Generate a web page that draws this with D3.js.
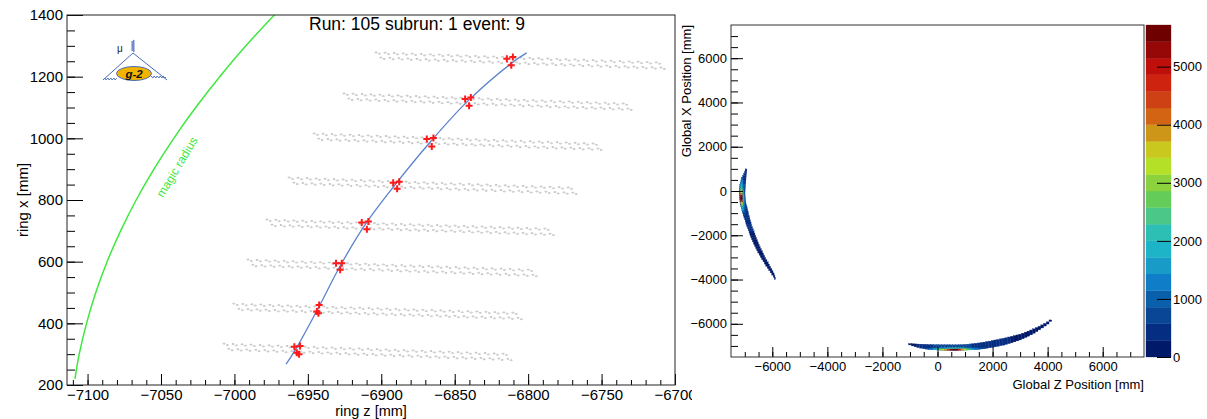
<!DOCTYPE html>
<html><head><meta charset="utf-8">
<script src="https://cdn.jsdelivr.net/npm/d3@7"></script>
<style>
body{margin:0;background:#fff;}
svg{display:block;font-family:"Liberation Sans",Arial,Helvetica,sans-serif;}
</style></head><body>
<svg id="c" width="1207" height="419"></svg>
<script>
// ================= DATA =================
const title = "Run: 105 subrun: 1 event: 9";
// left panel (ring coordinates, mm)
const leftZDomain = [-7114, -6700];
const leftXDomain = [200, 1400];
const leftZTicks = [-7100, -7050, -7000, -6950, -6900, -6850, -6800, -6750, -6700];
const leftXTicks = [200, 400, 600, 800, 1000, 1200, 1400];
const leftZTitle = "ring z [mm]";
const leftXTitle = "ring x [mm]";
// magic radius curve
const magicX = [220, 300, 400, 500, 600, 700, 800, 900, 1000, 1100, 1200, 1300, 1400, 1420];
const magicZ = [-7108.6, -7105.7, -7100.7, -7094.4, -7086.7, -7077.5, -7066.9, -7054.8, -7041.3, -7026.4, -7010.0, -6992.2, -6972.8, -6968.8];
const magicLabel = "magic radius";
// fitted track
const fitX = [268, 314, 444, 586, 720, 853, 989, 1119, 1245, 1277];
const fitZ = [-6964.8, -6958.5, -6943.5, -6928.0, -6911.0, -6890.0, -6866.5, -6841.5, -6811.0, -6801.0];
// straw hits (red)
const hitZ = [-6959.2, -6955.3, -6957.5, -6956.0, -6942.3, -6943.9, -6942.8, -6930.8, -6926.9, -6928.0,
              -6913.3, -6908.8, -6909.8, -6891.9, -6887.8, -6889.2, -6869.0, -6864.5, -6865.6,
              -6842.9, -6839.0, -6840.2, -6814.5, -6810.4, -6811.5];
const hitX = [324.4, 326.6, 304.9, 299.7, 459.7, 438.0, 432.8, 595.1, 595.1, 573.4,
              727.0, 730.2, 705.5, 855.8, 859.1, 836.4, 997.7, 1001.0, 973.7,
              1127.6, 1132.8, 1105.8, 1258.4, 1264.0, 1236.7];
// tracker stations: band centre at first / last straw
const stationZ0 = [-7004.3, -6997.5, -6988.0, -6975.0, -6960.0, -6943.0, -6922.6, -6900.8];
const stationX0 = [323.4, 453.2, 596.1, 726.0, 862.3, 1005.2, 1135.0, 1268.2];
const stationZ1 = [-6814.3, -6807.5, -6797.2, -6785.7, -6770.0, -6753.0, -6732.5, -6710.0];
const stationX1 = [290.9, 424.0, 563.6, 696.8, 829.9, 972.7, 1102.6, 1235.7];
const strawsPerLayer = 32;
const layerOffset = [10, 6, -6, -10];     // mm, across the station
const layerShift = [-4.5, -1.5, 1.5, 4.5]; // mm, along the station

// right panel (global coordinates, mm)
const rightDomain = [-7500, 7500];
const rightTicks = [-6000, -4000, -2000, 0, 2000, 4000, 6000];
const rightZTitle = "Global Z Position [mm]";
const rightXTitle = "Global X Position [mm]";
const paletteMax = 5717;
const paletteTicks = [0, 1000, 2000, 3000, 4000, 5000];
const paletteColors = ["#001969","#052d82","#0a4696","#0a5faa","#0f7dc8","#199bc8","#1eb4c8","#2dbeb4",
  "#4bc887","#64cd5a","#8cd23c","#b4e128","#c8c81e","#cd9619","#d26414","#cd4114","#cd230f","#be0f0a","#960808","#6e0000"];
// histogram: left arc, rows of 100 mm in X
const leftArcX = [950,850,750,650,550,450,350,250,150,50,-50,-150,-250,-350,-450,-550,-650,-750,-850,-950,
  -1050,-1150,-1250,-1350,-1450,-1550,-1650,-1750,-1850,-1950,-2050,-2150,-2250,-2350,-2450,-2550,-2650,-2750,-2850,-2950,
  -3050,-3150,-3250,-3350,-3450,-3550,-3650,-3750,-3850,-3950];
const leftArcL = [-6975,-7010,-7045,-7080,-7115,-7140,-7165,-7180,-7190,-7195,-7198,-7195,-7190,-7185,-7178,-7170,-7150,-7130,-7105,-7080,
  -7060,-7035,-7010,-6985,-6960,-6935,-6905,-6875,-6845,-6815,-6785,-6755,-6720,-6685,-6645,-6605,-6565,-6525,-6480,-6435,
  -6390,-6340,-6290,-6240,-6185,-6130,-6075,-6020,-5965,-5925];
const leftArcR = [-6925,-6930,-6940,-6950,-6955,-6960,-6965,-6970,-6975,-6985,-6990,-6990,-6985,-6975,-6965,-6955,-6935,-6915,-6895,-6875,
  -6860,-6835,-6815,-6795,-6770,-6750,-6720,-6690,-6660,-6630,-6600,-6570,-6540,-6510,-6475,-6440,-6400,-6360,-6320,-6280,
  -6240,-6195,-6150,-6105,-6060,-6015,-5975,-5935,-5905,-5885];
const leftArcN = [250,350,400,400,450,500,550,600,600,650,700,700,700,650,650,600,550,500,450,400,
  400,350,350,350,300,300,300,300,300,250,250,250,250,250,250,250,200,200,200,200,
  200,200,200,200,150,150,150,150,150,100];
const leftHotX = [550,450,350,250,150,50,-50,-150,-250,-350,-450,-550,-650,-750,-850,-950,-1050];
const leftHotZ0 = [-7120,-7135,-7145,-7150,-7155,-7158,-7160,-7160,-7158,-7155,-7150,-7142,-7130,-7115,-7095,-7072,-7050];
const leftHotZ1 = [-7060,-7065,-7075,-7080,-7085,-7088,-7090,-7090,-7088,-7085,-7080,-7072,-7060,-7045,-7025,-7002,-6980];
const leftHotN = [900,1200,1600,1900,2200,2700,3300,4200,5200,5600,4700,3700,2800,2000,1500,1000,750];
const leftHaloN = [500,600,800,900,1100,1300,1500,1800,2100,2200,1900,1600,1300,1000,800,600,500];
// histogram: bottom arc, columns of 100 mm in Z
const bottomArcZ = [-1000,-900,-800,-700,-600,-500,-400,-300,-200,-100,0,100,200,300,400,500,600,700,800,900,
  1000,1100,1200,1300,1400,1500,1600,1700,1800,1900,2000,2100,2200,2300,2400,2500,2600,2700,2800,2900,
  3000,3100,3200,3300,3400,3500,3600,3700,3800,3900,4000,4100];
const bottomArcC = [-6925,-6950,-6975,-6995,-7010,-7025,-7035,-7045,-7052,-7058,-7062,-7066,-7070,-7072,-7074,-7075,-7075,-7073,-7070,-7066,
  -7060,-7052,-7043,-7032,-7020,-7005,-6990,-6972,-6953,-6932,-6910,-6886,-6862,-6835,-6808,-6780,-6746,-6711,-6675,-6638,
  -6600,-6550,-6498,-6445,-6390,-6328,-6262,-6193,-6120,-6042,-5962,-5860];
const bottomArcH = [30,50,65,80,90,100,105,110,115,115,120,120,125,125,125,125,125,125,125,125,
  130,130,135,135,140,140,145,145,150,150,155,155,155,155,155,150,150,145,140,135,
  130,125,120,115,110,100,90,80,70,60,50,35];
const bottomArcN = [150,200,250,300,350,400,450,500,550,600,650,700,700,750,750,800,800,800,750,700,
  700,650,600,550,500,450,400,400,350,350,300,300,300,300,300,300,300,250,250,250,
  250,250,250,200,200,200,200,200,200,150,150,150];
const bottomHotZ = [-400,-300,-200,-100,0,100,200,300,400,500,600,700,800,900,1000,1100,1200,1300,1400,1500,1600,1700];
const bottomHotN = [800,1100,1400,1800,2200,2700,3200,3800,4500,5300,5700,5500,4800,4000,3200,2600,2100,1700,1400,1100,850,700];
const bottomHaloN = [400,500,650,800,950,1150,1350,1600,1850,2100,2200,2150,1900,1650,1350,1100,950,800,650,550,450,400];

// ================= DRAW =================
const FF = "Liberation Sans, Arial, sans-serif";
const svg = d3.select("#c");
svg.append("rect").attr("width",1207).attr("height",419).attr("fill","#fff");

// ---------- LEFT PANEL ----------
const defs = svg.append("defs");
defs.append("clipPath").attr("id","leftclip").append("rect").attr("x",0).attr("y",0).attr("width",692).attr("height",419);
defs.append("clipPath").attr("id","frameclip").append("rect").attr("x",67).attr("y",15).attr("width",608).attr("height",370);
const L = svg.append("g").attr("clip-path","url(#leftclip)");
const zL = d3.scaleLinear().domain(leftZDomain).range([67, 675]);
const xL = d3.scaleLinear().domain(leftXDomain).range([385, 15]);

const plotL = L.append("g").attr("clip-path","url(#frameclip)");

// straws
const straws = [];
stationZ0.forEach((z0, s) => {
  const dz = stationZ1[s]-z0, dx = stationX1[s]-stationX0[s];
  const len = Math.hypot(dz, dx), uz = dz/len, ux = dx/len, nz = -ux, nx = uz;
  const pitch = len/(strawsPerLayer-1);
  layerOffset.forEach((off, j) => {
    for (let i = 0; i < strawsPerLayer; i++) {
      const a = i*pitch + layerShift[j];
      straws.push({z: z0 + uz*a + nz*off, x: stationX0[s] + ux*a + nx*off});
    }
  });
});
plotL.append("g").selectAll("ellipse").data(straws).join("ellipse")
  .attr("cx", d => zL(d.z)).attr("cy", d => xL(d.x))
  .attr("rx", 1.2).attr("ry", 0.5)
  .attr("fill","none").attr("stroke","#a8a8a8").attr("stroke-width",0.6);

// magic radius
const smoothLine = d3.line().x(d => zL(d[0])).y(d => xL(d[1])).curve(d3.curveCatmullRom);
plotL.append("path").datum(magicZ.map((z,i)=>[z, magicX[i]]))
  .attr("d", smoothLine).attr("fill","none").attr("stroke","#3fe83f").attr("stroke-width",1.5);
L.append("text").text(magicLabel)
  .attr("transform","translate(177,167) rotate(-59)")
  .attr("text-anchor","middle").attr("dy","0.35em")
  .attr("font-size",12).attr("fill","#3fe83f");

// fit
plotL.append("path").datum(fitZ.map((z,i)=>[z, fitX[i]]))
  .attr("d", smoothLine).attr("fill","none").attr("stroke","#5a82cd").attr("stroke-width",1.3);

// hits
plotL.append("g").selectAll("path").data(hitZ.map((z,i)=>[z, hitX[i]])).join("path")
  .attr("d", d => { const cx = zL(d[0]), cy = xL(d[1]); return `M${cx-3.5},${cy}H${cx+3.5}M${cx},${cy-3.5}V${cy+3.5}`; })
  .attr("stroke","#ff1a1a").attr("stroke-width",2).attr("fill","none");

// axes
const axFont = 15;
const xMinor = d3.range(-7110, -6699, 10);
const yMinor = d3.range(200, 1401, 50);
L.append("g").attr("transform","translate(0,385)")
  .call(d3.axisBottom(zL).tickValues(xMinor).tickSize(-5).tickFormat(""))
  .call(g => g.select(".domain").remove());
L.append("g").attr("transform","translate(0,385)")
  .call(d3.axisBottom(zL).tickValues(leftZTicks).tickSize(-11).tickPadding(4).tickFormat(d3.format("d")))
  .call(g => g.select(".domain").remove())
  .call(g => g.selectAll("text").attr("font-size",axFont).attr("font-family",FF).attr("fill","#000"));
L.append("g").attr("transform","translate(67,0)")
  .call(d3.axisLeft(xL).tickValues(yMinor).tickSize(-8).tickFormat(""))
  .call(g => g.select(".domain").remove());
L.append("g").attr("transform","translate(67,0)")
  .call(d3.axisLeft(xL).tickValues(leftXTicks).tickSize(-16).tickPadding(4).tickFormat(d3.format("d")))
  .call(g => g.select(".domain").remove())
  .call(g => g.selectAll("text").attr("font-size",axFont).attr("font-family",FF).attr("fill","#000"));
L.selectAll(".tick line").attr("stroke","#000");

L.append("rect").attr("x",67).attr("y",15).attr("width",608).attr("height",370)
  .attr("fill","none").attr("stroke","#222").attr("stroke-width",1);

L.append("text").text(leftZTitle).attr("x",371).attr("y",416).attr("text-anchor","middle").attr("font-size",14.5);
L.append("text").text(leftXTitle).attr("transform","translate(28,200) rotate(-90)").attr("text-anchor","middle").attr("font-size",15);
L.append("text").text(title).attr("x",417).attr("y",30).attr("text-anchor","middle").attr("font-size",17.5);

// g-2 logo (decoration)
const logo = L.append("g");
const blue = "#4a6cb8";
logo.append("path").attr("d","M133,40 l1.5,1 l-3,1 l3,1 l-3,1 l3,1 l-3,1 l3,1 l-3,1 l3,1 l-3,1 l3,1 l-1.5,1")
  .attr("fill","none").attr("stroke",blue).attr("stroke-width",0.9);
logo.append("path").attr("d","M133,53 L103,80 M133,53 L167,80").attr("stroke",blue).attr("stroke-width",1).attr("fill","none");
logo.append("path").attr("d","M103,80 l2,-2 l1,2 l2,-2 l1,2 l2,-2 l1,2 l2,-2 l1,2 l2,-2 M151,76 l2,2 l1,-2 l2,2 l1,-2 l2,2 l1,-2 l2,2 l1,-2 l2,2 l1,-1")
  .attr("stroke",blue).attr("stroke-width",0.9).attr("fill","none");
logo.append("ellipse").attr("cx",134).attr("cy",73.5).attr("rx",17.5).attr("ry",7)
  .attr("fill","#f2b400").attr("stroke",blue).attr("stroke-width",1);
logo.append("text").text("g-2").attr("x",134).attr("y",77.5).attr("text-anchor","middle")
  .attr("font-size",11.5).attr("font-weight","bold").attr("font-style","italic").attr("fill","#111");
logo.append("text").text("μ").attr("x",120).attr("y",52).attr("text-anchor","middle").attr("font-size",10).attr("fill","#222");

// ---------- RIGHT PANEL ----------
const R = svg.append("g");
const zR = d3.scaleLinear().domain(rightDomain).range([731, 1144]);
const xR = d3.scaleLinear().domain(rightDomain).range([357, 25]);
const cS = d3.scaleLinear().domain([0, paletteMax]).range([357, 25]);
const colorOf = n => paletteColors[Math.min(paletteColors.length-1, Math.floor(n/paletteMax*paletteColors.length))];

const cells = [];
leftArcX.forEach((x,i) => cells.push({z0:leftArcL[i], z1:leftArcR[i], x0:x-50, x1:x+50, n:leftArcN[i]}));
leftHotX.forEach((x,i) => {
  cells.push({z0:leftHotZ1[i], z1:leftHotZ1[i]+60, x0:x-50, x1:x+50, n:leftHaloN[i]});
  cells.push({z0:leftHotZ0[i], z1:leftHotZ1[i], x0:x-50, x1:x+50, n:leftHotN[i]});
});
bottomArcZ.forEach((z,i) => cells.push({z0:z-50, z1:z+50, x0:bottomArcC[i]-bottomArcH[i], x1:bottomArcC[i]+bottomArcH[i], n:bottomArcN[i]}));
bottomHotZ.forEach((z,i) => {
  const k = bottomArcZ.indexOf(z);
  const lo = bottomArcC[k]-bottomArcH[k];
  cells.push({z0:z-50, z1:z+50, x0:lo+60, x1:lo+120, n:bottomHaloN[i]});
  cells.push({z0:z-50, z1:z+50, x0:lo, x1:lo+60, n:bottomHotN[i]});
});
R.append("g").selectAll("rect").data(cells).join("rect")
  .attr("x", d => zR(d.z0)).attr("y", d => xR(d.x1))
  .attr("width", d => zR(d.z1)-zR(d.z0)).attr("height", d => xR(d.x0)-xR(d.x1))
  .attr("fill", d => colorOf(d.n)).attr("stroke", d => colorOf(d.n)).attr("stroke-width",0.3);

// axes
const rf = 13;
const rMinor = d3.range(-7000, 7001, 500);
R.append("g").attr("transform","translate(731,0)")
  .call(d3.axisLeft(xR).tickValues(rMinor).tickSize(-7).tickFormat(""))
  .call(g => g.select(".domain").remove());
R.append("g").attr("transform","translate(731,0)")
  .call(d3.axisLeft(xR).tickValues(rightTicks).tickSize(-12).tickPadding(4).tickFormat(d3.format("d")))
  .call(g => g.select(".domain").remove())
  .call(g => g.selectAll("text").attr("font-size",rf).attr("font-family",FF).attr("fill","#000"));
R.append("g").attr("transform","translate(0,357)")
  .call(d3.axisBottom(zR).tickValues(rMinor).tickSize(-5).tickFormat(""))
  .call(g => g.select(".domain").remove());
R.append("g").attr("transform","translate(0,357)")
  .call(d3.axisBottom(zR).tickValues(rightTicks).tickSize(-10).tickPadding(5).tickFormat(d3.format("d")))
  .call(g => g.select(".domain").remove())
  .call(g => g.selectAll("text").attr("font-size",rf).attr("font-family",FF).attr("fill","#000"));
R.selectAll(".tick line").attr("stroke","#000");
R.append("rect").attr("x",731).attr("y",25).attr("width",413).attr("height",332)
  .attr("fill","none").attr("stroke","#333").attr("stroke-width",1);
R.append("text").text(rightZTitle).attr("x",1144).attr("y",389).attr("text-anchor","end").attr("font-size",rf);
R.append("text").text(rightXTitle).attr("transform","translate(691,25) rotate(-90)").attr("text-anchor","end").attr("font-size",rf);

// palette
const bandH = paletteMax/paletteColors.length;
R.append("g").selectAll("rect").data(paletteColors).join("rect")
  .attr("x",1146).attr("width",25)
  .attr("y",(c,i) => cS((i+1)*bandH)).attr("height",(c,i) => cS(i*bandH)-cS((i+1)*bandH))
  .attr("fill", c => c).attr("stroke", c => c).attr("stroke-width",0.3);
R.append("g").attr("transform","translate(1171,0)")
  .call(d3.axisRight(cS).tickValues(paletteTicks).tickSize(-14).tickPadding(2).tickFormat(d3.format("d")))
  .call(g => g.select(".domain").remove())
  .call(g => g.selectAll(".tick line").attr("stroke","#000"))
  .call(g => g.selectAll("text").attr("font-size",rf).attr("font-family",FF).attr("fill","#000"));
</script>
</body></html>
